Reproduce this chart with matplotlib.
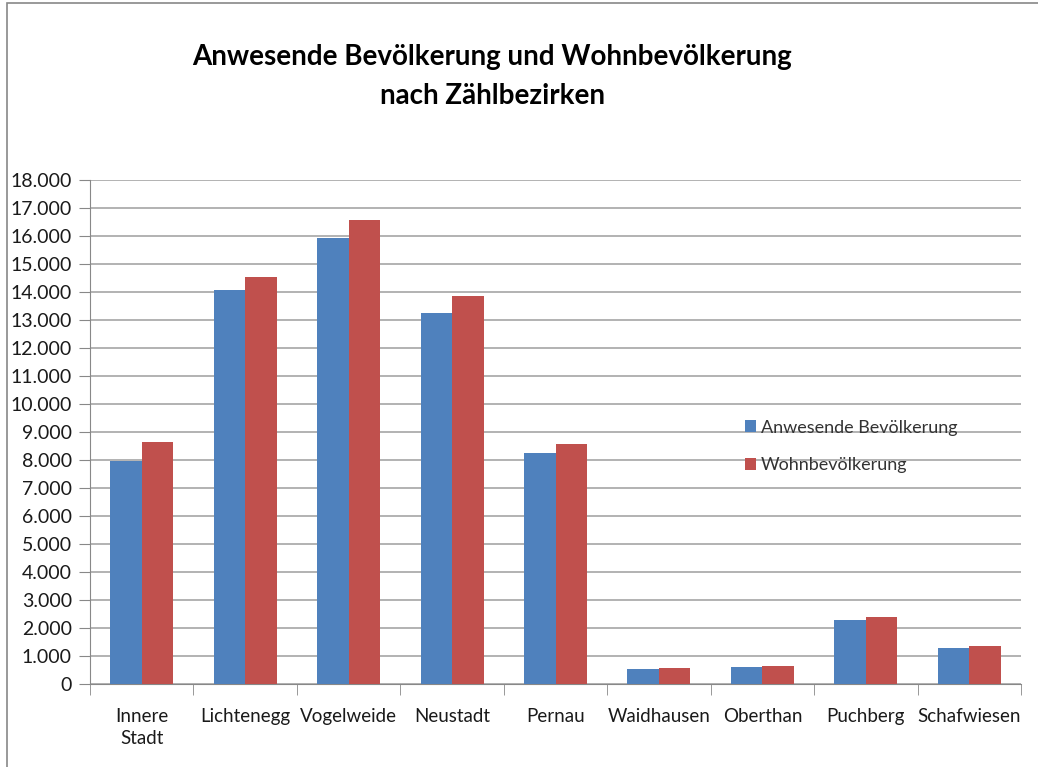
#!/usr/bin/env python3

import numpy as np
import matplotlib
matplotlib.use('Agg')
import matplotlib.pyplot as plt
from matplotlib.ticker import FuncFormatter, MultipleLocator
from matplotlib.patches import Rectangle

# data
bezirke = ['Innere\nStadt', 'Lichtenegg', 'Vogelweide', 'Neustadt', 'Pernau',
	'Waidhausen', 'Oberthan', 'Puchberg', 'Schafwiesen']
anwesend = [7950, 14060, 15940, 13260, 8250, 540, 610, 2300, 1300]
wohn = [8630, 14520, 16580, 13860, 8570, 580, 650, 2380, 1340]
series_names = ['Anwesende Bevölkerung', 'Wohnbevölkerung']
colors = ['#4F81BD', '#C0504D']

plt.rcParams['font.family'] = ['Lato', 'DejaVu Sans']

fig = plt.figure(figsize=(10.38, 7.67), dpi=100)
ax = fig.add_axes([90/1038, 1-684/767, (1021-90)/1038, (684-180)/767])

# outer chart border
fig.patches.append(Rectangle((7/1038, -0.01), 1.1, 1-3/767+0.01, transform=fig.transFigure,
	fill=False, edgecolor='#888888', linewidth=1.2))

x = np.arange(len(bezirke))
w = 0.305
ax.bar(x - w/2, anwesend, w, color=colors[0], label=series_names[0], zorder=3)
ax.bar(x + w/2, wohn, w, color=colors[1], label=series_names[1], zorder=3)

ax.set_xlim(-0.5, len(bezirke) - 0.5)
ax.set_ylim(0, 18000)
ax.yaxis.set_major_locator(MultipleLocator(1000))
ax.yaxis.set_major_formatter(FuncFormatter(lambda v, p: f'{int(v):,}'.replace(',', '.')))
ax.grid(axis='y', color='#a6a6a6', linewidth=1.2, zorder=0)

for s in ['top', 'right']:
	ax.spines[s].set_visible(False)
for s in ['left', 'bottom']:
	ax.spines[s].set_color('#888888')

ax.set_xticks(x)
ax.set_xticklabels(bezirke, fontsize=13.5, color='#1a1a1a', linespacing=1.35)
ax.tick_params(axis='x', length=0, pad=17)
ax.set_xticks(np.arange(-0.5, len(bezirke)), minor=True)
ax.tick_params(axis='x', which='minor', length=8, color='#888888')
ax.tick_params(axis='y', labelsize=14, length=8, color='#888888', labelcolor='#1a1a1a', pad=5)

ax.legend(loc='upper left', bbox_to_anchor=(0.686, 0.557), frameon=False, fontsize=13,
	handlelength=0.6, handleheight=0.6, handletextpad=0.3, labelspacing=1.2, labelcolor='#333333')

fig.text(492/1038, 1-57/767, 'Anwesende Bevölkerung und Wohnbevölkerung',
	ha='center', va='center', fontsize=20, fontweight='bold')
fig.text(492/1038, 1-96/767, 'nach Zählbezirken',
	ha='center', va='center', fontsize=20, fontweight='bold')

fig.savefig('out.png', dpi=100)
